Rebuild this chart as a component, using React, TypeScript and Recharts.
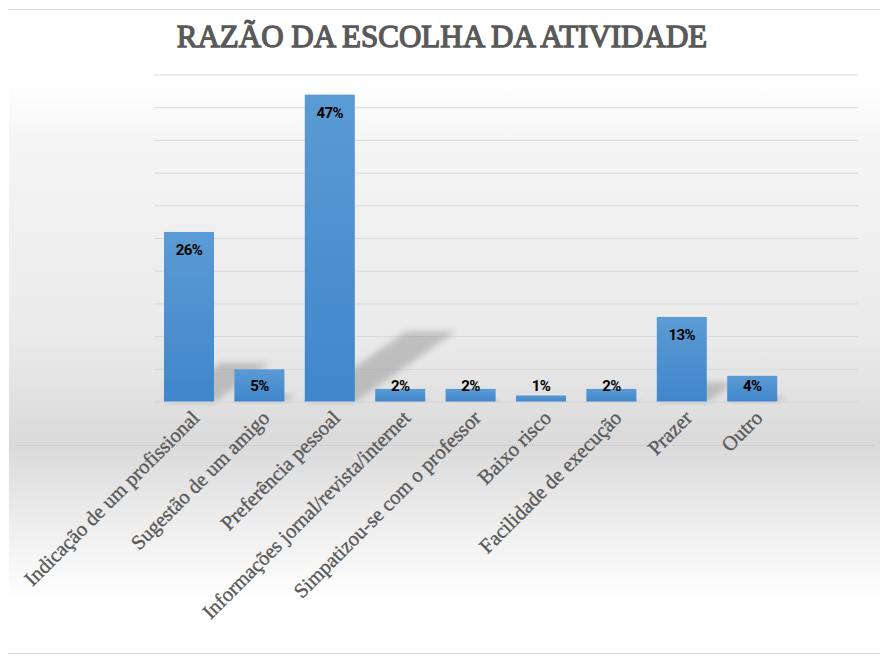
import { BarChart, Bar, XAxis, YAxis, CartesianGrid, LabelList } from "recharts";

const CATEGORIES = [
  "Indicação de um profissional",
  "Sugestão de um amigo",
  "Preferência pessoal",
  "Informações jornal/revista/internet",
  "Simpatizou-se com o professor",
  "Baixo risco",
  "Facilidade de execução",
  "Prazer",
  "Outro",
];
const PERCENTS = [26, 5, 47, 2, 2, 1, 2, 13, 4];
const Y_TICKS = [0, 5, 10, 15, 20, 25, 30, 35, 40, 45, 50];

const data = CATEGORIES.map((name, i) => ({ name, value: PERCENTS[i] }));

const W = 873;
const H = 643;
const SERIF = "Liberation Serif, Times New Roman, serif";

function BarWithShadow(props: any) {
  const { x, y, width, height } = props;
  if (!height || height <= 0) return null;
  const base = y + height;
  const dx = height * 0.33;
  const dy = height * 0.23;
  const pts = `${x},${base} ${x + width},${base} ${x + width + dx},${base - dy} ${x + dx},${base - dy}`;
  return (
    <g>
      <polygon points={pts} fill="#8c8c8c" opacity={0.45} filter="url(#shadowBlur)" />
      <rect x={x} y={y} width={width} height={height} fill="url(#barFill)" />
    </g>
  );
}

function ValueLabel(props: any) {
  const { x, y, width, height, value } = props;
  const base = y + height;
  const cy = Math.min(y + 18, base - 16);
  return (
    <text
      x={x + width / 2}
      y={cy}
      textAnchor="middle"
      dominantBaseline="central"
      fontFamily="Roboto, sans-serif"
      fontWeight="bold"
      fontSize={15}
      letterSpacing={-0.6}
      fill="#000"
    >
      {value}%
    </text>
  );
}

function AngledTick(props: any) {
  const { x, y, payload } = props;
  return (
    <g transform={`translate(${x + 7},${y + 5})`}>
      <text
        textAnchor="end"
        transform="rotate(-45)"
        fontFamily={SERIF}
        fontSize={20.5}
        fill="#595959"
        stroke="#595959"
        strokeWidth={0.35}
        dy={6}
      >
        {payload.value}
      </text>
    </g>
  );
}

export default function App() {
  return (
    <div
      style={{
        position: "relative",
        width: W,
        height: H,
        marginLeft: -1,
        marginTop: 1,
        border: "1px solid #d4d4d4",
        background: "#fff",
      }}
    >
      <div
        style={{
          position: "absolute",
          left: 1,
          right: 1,
          top: 70,
          height: 520,
          background:
            "linear-gradient(to bottom, #ffffff 0%, #f5f5f5 12%, #eaeaea 50%, #dadada 70%, #ececec 84%, #ffffff 100%)",
        }}
      />
      <div
        style={{
          position: "absolute",
          left: 8,
          right: 8,
          top: 435,
          borderTop: "1px dotted #c4c4c4",
        }}
      />
      <svg
        width={W}
        height={60}
        style={{ position: "absolute", left: 0, top: 0 }}
      >
        <text
          x={434}
          y={37}
          textAnchor="middle"
          fontFamily={SERIF}
          fontSize={31}
          fill="#595959"
          stroke="#595959"
          strokeWidth={1.3}
        >
          RAZÃO DA ESCOLHA DA ATIVIDADE
        </text>
      </svg>
      <div style={{ position: "absolute", left: 0, top: 0 }}>
        <BarChart
          width={W}
          height={H}
          data={data}
          margin={{ top: 65, right: 23, bottom: 41, left: 146 }}
        >
          <defs>
            <linearGradient id="barFill" x1="0" y1="0" x2="0" y2="1">
              <stop offset="0%" stopColor="#5b9bd5" />
              <stop offset="100%" stopColor="#3f86cb" />
            </linearGradient>
            <filter id="shadowBlur" x="-20%" y="-20%" width="140%" height="140%">
              <feGaussianBlur stdDeviation="3" />
            </filter>
          </defs>
          <CartesianGrid vertical={false} stroke="#d9d9d9" />
          <XAxis
            dataKey="name"
            interval={0}
            height={210}
            tickLine={false}
            axisLine={{ stroke: "#d9d9d9" }}
            tick={<AngledTick />}
            padding={{ left: 0, right: 70.4 }}
          />
          <YAxis hide domain={[0, 50]} ticks={Y_TICKS} />
          <Bar
            dataKey="value"
            barSize={50}
            shape={<BarWithShadow />}
            isAnimationActive={false}
          >
            <LabelList dataKey="value" content={<ValueLabel />} />
          </Bar>
        </BarChart>
      </div>
    </div>
  );
}
